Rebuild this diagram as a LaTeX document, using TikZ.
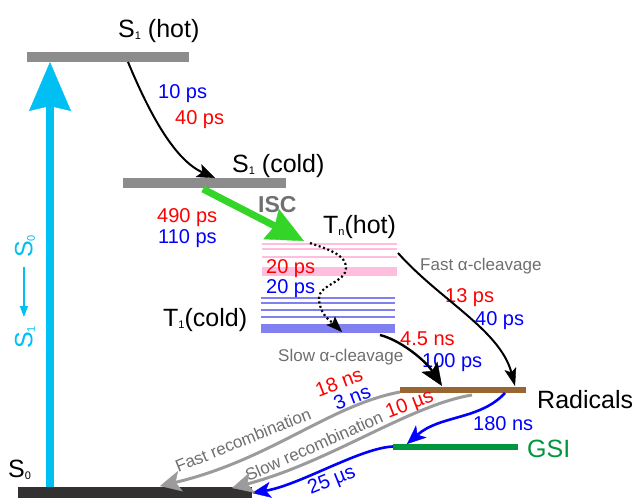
\documentclass[tikz,border=0pt]{standalone}
\usepackage{fontspec}
\setmainfont{Liberation Sans}
\usetikzlibrary{arrows.meta}
\definecolor{cyanA}{RGB}{0,191,243}
\definecolor{levelgray}{RGB}{140,140,140}
\definecolor{s0dark}{RGB}{50,48,48}
\definecolor{iscgreen}{RGB}{51,214,40}
\definecolor{isctext}{RGB}{112,112,112}
\definecolor{pinkT}{RGB}{255,190,222}
\definecolor{blueT}{RGB}{128,128,240}
\definecolor{brownR}{RGB}{153,102,51}
\definecolor{gsigreen}{RGB}{0,150,60}
\definecolor{arrgray}{RGB}{155,155,155}
\definecolor{txtgray}{RGB}{110,110,110}
\definecolor{tred}{RGB}{255,0,0}
\definecolor{tblue}{RGB}{0,0,255}
\newcommand\lowsub[1]{\raisebox{-2.5pt}{\fontsize{11}{11}\selectfont #1}}
\tikzset{
  bar/.style={inner sep=0, outer sep=0, draw=none},
  lbl/.style={inner sep=0, anchor=base west},
  big/.style={font=\fontsize{25}{28}\selectfont},
  tm/.style={font=\fontsize{20}{24}\selectfont},
  sm/.style={font=\fontsize{17}{20}\selectfont, text=txtgray},
  blk/.style={color=black, line width=2pt, -{Stealth[length=18pt,width=14pt,inset=4pt,line width=0.4pt]}},
  grayarr/.style={color=arrgray, line width=3pt, -{Stealth[length=21pt,width=21pt,inset=5pt,line width=0.4pt]}},
  bluearr/.style={color=tblue, line width=2.6pt, -{Stealth[length=19pt,width=16pt,inset=5pt,line width=0.4pt]}},
}
\begin{document}
\begin{tikzpicture}[x=1pt,y=-1pt]
\useasboundingbox (0,0) rectangle (638,498);
% levels
\node[bar, fill=levelgray, minimum width=162pt, minimum height=10pt] (s1hot) at (108,57) {};
\node[bar, fill=levelgray, minimum width=163pt, minimum height=10pt] (s1cold) at (204.5,183) {};
\node[bar, fill=s0dark, minimum width=234pt, minimum height=12pt] (s0) at (135,493) {};
\node[bar, fill=brownR, minimum width=126pt, minimum height=6pt] (rad) at (463,389.5) {};
\node[bar, fill=gsigreen, minimum width=125pt, minimum height=6pt] (gsi) at (455.5,446.5) {};
% Tn (hot) manifold
\foreach \yy in {244,249,257} \fill[pinkT] (262,\yy-1.3) rectangle (397,\yy+1.3);
\fill[pinkT] (262,267) rectangle (397,276);
% T1 (cold) manifold
\foreach \yy in {298,303,310,317} \fill[blueT] (261,\yy-1.3) rectangle (395,\yy+1.3);
\fill[blueT] (261,324) rectangle (395,332.5);
% labels
\node[lbl, big] (l1) at (118,37) {S\lowsub{1} (hot)};
\node[lbl, big] (l2) at (232,172) {S\lowsub{1} (cold)};
\node[lbl, big] (l3) at (323,233) {T\lowsub{n}(hot)};
\node[lbl, big] (l4) at (163,326) {T\lowsub{1}(cold)};
\node[lbl, big] (l5) at (8,477) {S\lowsub{0}};
\node[lbl, big] (l6) at (537,408) {Radicals};
\node[lbl, big, text=gsigreen] (l7) at (527,457) {GSI};
\node[lbl, font=\bfseries\fontsize{23}{26}\selectfont, text=isctext] (isc) at (258,212) {ISC};
\node[inner sep=0, big, text=cyanA, rotate=90] (exc) at (25,292) {S\lowsub{1}\,\,\tikz[baseline={-8.5pt}]\draw[color=cyanA, line width=1.4pt, -{Triangle[length=11pt,width=8pt]}] (50pt,0pt) -- (0pt,0pt);\,\,S\lowsub{0}};
% timing labels
\node[lbl, tm, text=tblue] (t1) at (158,98) {10 ps};
\node[lbl, tm, text=tred] (t2) at (175,124) {40 ps};
\node[lbl, tm, text=tred] (t3) at (157,222) {490 ps};
\node[lbl, tm, text=tblue] (t4) at (158,243) {110 ps};
\node[lbl, tm, text=tred] (t5) at (266,273) {20 ps};
\node[lbl, tm, text=tblue] (t6) at (266,293) {20 ps};
\node[lbl, sm] (fa) at (420,270) {Fast α-cleavage};
\node[lbl, tm, text=tred] (t7) at (445,302) {13 ps};
\node[lbl, tm, text=tblue] (t8) at (475,325) {40 ps};
\node[lbl, sm] (sa) at (278,361) {Slow α-cleavage};
\node[lbl, tm, text=tred] (t9) at (400,345) {4.5 ns};
\node[lbl, tm, text=tblue] (t10) at (422,367) {100 ps};
\node[lbl, tm, text=tblue] (t11) at (473,430) {180 ns};
\node[inner sep=0, tm, text=tred, rotate=21] (t12) at (339,382) {18 ns};
\node[inner sep=0, tm, text=tblue, rotate=21] (t13) at (352,397) {3 ns};
\node[inner sep=0, tm, text=tred, rotate=21] (t14) at (410,405) {10 µs};
\node[inner sep=0, tm, text=tblue, rotate=22] (t15) at (332,481) {25 µs};
\node[inner sep=0, sm, rotate=22] (fr) at (243,440) {Fast recombination};
\node[inner sep=0, sm, rotate=24] (sr) at (314,446) {Slow recombination};
% connector end points
\coordinate (exc0) at (50,487);
\coordinate (exc1) at (50,62);
\coordinate (h1) at (128,62);
\coordinate (c1) at (215,178);
\coordinate (isc0) at (203,189);
\coordinate (isc1) at (304,241);
\coordinate (dt0) at (310,243);
\coordinate (dt1) at (342,332);
\coordinate (fa0) at (398,253);
\coordinate (fa1) at (515,386);
\coordinate (sa0) at (380,335);
\coordinate (sa1) at (442,386);
\coordinate (r0) at (505,393);
\coordinate (g1) at (407,444);
\coordinate (g0) at (393,446.5);
\coordinate (s0a) at (252,493);
\coordinate (fr0) at (400,392);
\coordinate (fr1) at (160,486);
\coordinate (sr0) at (472,395);
\coordinate (sr1) at (232,488);
% connectors
\draw[color=cyanA, line width=8pt, -{Stealth[length=49pt,width=42pt,inset=5pt,line width=0.4pt]}] (exc0) -- (exc1);
\draw[blk] (h1) .. controls (150,115) and (175,160) .. (c1);
\draw[color=iscgreen, line width=7pt, -{Stealth[length=37pt,width=34pt,inset=4pt,line width=0.4pt]}] (isc0) -- (isc1);
\draw[color=black, line width=2.2pt, dash pattern=on 2pt off 2.6pt, -{Stealth[length=16pt,width=12pt,inset=3pt,line width=0.4pt]}]
  (dt0) .. controls (330,250) and (346,255) .. (346,268) .. controls (346,282) and (319,285) .. (319,298) .. controls (319,315) and (332,322) .. (dt1);
\draw[blk, -{Stealth[length=18pt,width=12pt,inset=4pt,line width=0.4pt]}] (fa0) .. controls (440,300) and (500,330) .. (fa1);
\draw[blk, line width=2.4pt, -{Stealth[length=23pt,width=19pt,inset=5pt,line width=0.4pt]}] (sa0) .. controls (400,340) and (425,360) .. (sa1);
\draw[bluearr] (r0) .. controls (480,420) and (440,415) .. (g1);
\draw[bluearr] (g0) .. controls (360,448) and (300,485) .. (s0a);
\draw[grayarr] (fr0) .. controls (330,405) and (270,460) .. (fr1);
\draw[grayarr] (sr0) .. controls (410,405) and (330,462) .. (sr1);
\end{tikzpicture}
\end{document}
